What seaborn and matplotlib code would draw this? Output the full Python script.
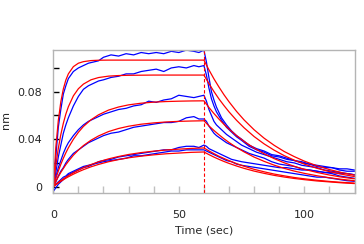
import numpy as np
import pandas as pd
import matplotlib
matplotlib.use("Agg")
import matplotlib.pyplot as plt
import seaborn as sns

# ---- raw sensor traces (blue) ----
t_raw = [0, 1, 2, 3, 4, 5, 6, 8, 10, 12, 14, 16, 18, 20, 23, 26, 29, 32, 35, 38, 41, 44, 47,
         50, 53, 56, 58, 60, 61, 62, 63, 64, 65, 67, 69, 71, 73, 75, 78, 81, 84, 87, 90, 93,
         96, 99, 102, 105, 108, 111, 114, 117, 120]

raw1 = [0, 0.025, 0.050, 0.065, 0.078, 0.085, 0.091, 0.097, 0.100, 0.102, 0.104, 0.105, 0.106,
        0.109, 0.111, 0.110, 0.112, 0.111, 0.113, 0.112, 0.113, 0.112, 0.114, 0.113, 0.115,
        0.114, 0.113, 0.115,
        0.105, 0.092, 0.080, 0.073, 0.067, 0.058, 0.052, 0.047, 0.043, 0.040, 0.035, 0.032,
        0.030, 0.027, 0.026, 0.024, 0.022, 0.021, 0.019, 0.018, 0.017, 0.016, 0.015, 0.015, 0.014]
raw2 = [0, 0.012, 0.025, 0.035, 0.045, 0.052, 0.058, 0.068, 0.076, 0.082, 0.085, 0.087, 0.089,
        0.090, 0.092, 0.093, 0.095, 0.095, 0.097, 0.098, 0.099, 0.097, 0.100, 0.101, 0.100,
        0.102, 0.101, 0.102,
        0.094, 0.083, 0.074, 0.068, 0.063, 0.056, 0.050, 0.046, 0.042, 0.039, 0.034, 0.031,
        0.029, 0.026, 0.025, 0.023, 0.022, 0.020, 0.019, 0.017, 0.016, 0.016, 0.014, 0.013, 0.013]
raw3 = [0, 0.008, 0.016, 0.022, 0.028, 0.033, 0.037, 0.043, 0.048, 0.052, 0.055, 0.057, 0.059,
        0.061, 0.063, 0.065, 0.066, 0.068, 0.069, 0.072, 0.071, 0.073, 0.074, 0.077, 0.076,
        0.075, 0.076, 0.077,
        0.072, 0.065, 0.060, 0.055, 0.052, 0.048, 0.044, 0.041, 0.038, 0.035, 0.032, 0.029,
        0.027, 0.025, 0.023, 0.021, 0.020, 0.018, 0.017, 0.016, 0.014, 0.013, 0.012, 0.011, 0.010]
raw4 = [0, 0.004, 0.009, 0.013, 0.016, 0.020, 0.023, 0.028, 0.031, 0.034, 0.037, 0.039, 0.041,
        0.043, 0.045, 0.046, 0.048, 0.050, 0.051, 0.052, 0.053, 0.054, 0.054, 0.055, 0.058,
        0.059, 0.057, 0.057,
        0.055, 0.051, 0.048, 0.045, 0.043, 0.040, 0.037, 0.035, 0.033, 0.031, 0.028, 0.026,
        0.024, 0.021, 0.019, 0.018, 0.017, 0.015, 0.014, 0.013, 0.012, 0.011, 0.009, 0.008, 0.007]
raw5 = [0, 0.002, 0.004, 0.006, 0.008, 0.009, 0.011, 0.013, 0.015, 0.017, 0.018, 0.019, 0.021,
        0.022, 0.023, 0.025, 0.026, 0.027, 0.028, 0.029, 0.030, 0.031, 0.031, 0.033, 0.034,
        0.034, 0.033, 0.035,
        0.034, 0.032, 0.031, 0.030, 0.029, 0.027, 0.025, 0.023, 0.022, 0.021, 0.020, 0.019,
        0.018, 0.017, 0.016, 0.016, 0.015, 0.014, 0.014, 0.013, 0.012, 0.012, 0.011, 0.011, 0.010]
raw6 = [-0.004, -0.001, 0.002, 0.004, 0.006, 0.008, 0.010, 0.012, 0.014, 0.016, 0.017, 0.019,
        0.020, 0.021, 0.022, 0.023, 0.024, 0.026, 0.026, 0.027, 0.028, 0.029, 0.030, 0.030,
        0.031, 0.031, 0.031, 0.031,
        0.030, 0.029, 0.028, 0.027, 0.026, 0.024, 0.022, 0.021, 0.019, 0.018, 0.017, 0.016,
        0.015, 0.014, 0.013, 0.012, 0.011, 0.010, 0.009, 0.008, 0.008, 0.007, 0.006, 0.005, 0.0045]

# ---- fitted curves (red) ----
t_fit = [0, 1, 2, 3, 4, 5, 6, 8, 10, 12, 15, 18, 22, 26, 30, 35, 40, 45, 50, 55, 60,
         62, 64, 66, 68, 70, 73, 76, 80, 84, 88, 92, 96, 100, 105, 110, 115, 120]

fit1 = [0, 0.0330, 0.0557, 0.0715, 0.0823, 0.0898, 0.0950, 0.1011, 0.1040, 0.1053, 0.1062,
        0.1065, 0.1066, 0.1066, 0.1066, 0.1066, 0.1066, 0.1066, 0.1066, 0.1066, 0.1066,
        0.0984, 0.0908, 0.0839, 0.0774, 0.0715, 0.0634, 0.0562, 0.0479, 0.0408, 0.0348,
        0.0296, 0.0253, 0.0215, 0.0176, 0.0144, 0.0118, 0.0097]
fit2 = [0, 0.0178, 0.0322, 0.0439, 0.0534, 0.0611, 0.0673, 0.0765, 0.0825, 0.0864, 0.0900,
        0.0919, 0.0931, 0.0936, 0.0938, 0.0939, 0.0940, 0.0940, 0.0940, 0.0940, 0.0940,
        0.0868, 0.0801, 0.0739, 0.0683, 0.0630, 0.0559, 0.0496, 0.0422, 0.0360, 0.0307,
        0.0261, 0.0223, 0.0190, 0.0155, 0.0127, 0.0104, 0.0085]
fit3 = [0, 0.0069, 0.0131, 0.0188, 0.0239, 0.0285, 0.0327, 0.0399, 0.0458, 0.0507, 0.0563,
        0.0605, 0.0645, 0.0671, 0.0689, 0.0703, 0.0712, 0.0717, 0.0720, 0.0722, 0.0723,
        0.0667, 0.0616, 0.0569, 0.0525, 0.0485, 0.0430, 0.0381, 0.0325, 0.0277, 0.0236,
        0.0201, 0.0171, 0.0146, 0.0120, 0.0098, 0.0080, 0.0066]
fit4 = [0, 0.0043, 0.0083, 0.0120, 0.0153, 0.0185, 0.0213, 0.0265, 0.0308, 0.0346, 0.0391,
        0.0427, 0.0464, 0.0490, 0.0509, 0.0526, 0.0537, 0.0545, 0.0550, 0.0553, 0.0555,
        0.0512, 0.0473, 0.0437, 0.0403, 0.0372, 0.0330, 0.0293, 0.0249, 0.0213, 0.0181,
        0.0154, 0.0131, 0.0112, 0.0092, 0.0075, 0.0061, 0.0050]
fit5 = [0, 0.0018, 0.0034, 0.0050, 0.0065, 0.0079, 0.0093, 0.0117, 0.0140, 0.0160, 0.0186,
        0.0209, 0.0234, 0.0254, 0.0271, 0.0287, 0.0299, 0.0309, 0.0316, 0.0322, 0.0326,
        0.0301, 0.0278, 0.0256, 0.0237, 0.0219, 0.0194, 0.0172, 0.0146, 0.0125, 0.0106,
        0.0091, 0.0077, 0.0066, 0.0054, 0.0044, 0.0036, 0.0030]
fit6 = [0, 0.0016, 0.0031, 0.0045, 0.0058, 0.0071, 0.0083, 0.0105, 0.0125, 0.0143, 0.0167,
        0.0187, 0.0210, 0.0228, 0.0243, 0.0257, 0.0268, 0.0277, 0.0283, 0.0289, 0.0292,
        0.0270, 0.0249, 0.0230, 0.0212, 0.0196, 0.0174, 0.0154, 0.0131, 0.0112, 0.0095,
        0.0081, 0.0069, 0.0059, 0.0048, 0.0040, 0.0032, 0.0026]

dissoc_start = 60
y_ticks = [0, 0.02, 0.04, 0.06, 0.08, 0.10]
y_labels = ["0", "", "0.04", "", "0.08", ""]
x_ticks = list(range(0, 121, 10))
x_labels = ["0", "", "", "", "", "50", "", "", "", "", "100", "", ""]

raw_series = [raw1, raw2, raw3, raw4, raw5, raw6]
fit_series = [fit1, fit2, fit3, fit4, fit5, fit6]

raw_df = pd.concat([pd.DataFrame({"t": t_raw, "y": s, "trace": i})
                    for i, s in enumerate(raw_series)], ignore_index=True)
fit_df = pd.concat([pd.DataFrame({"t": t_fit, "y": s, "trace": i})
                    for i, s in enumerate(fit_series)], ignore_index=True)

sns.set_style("white")
plt.rcParams["font.family"] = ["DejaVu Sans"]

fig = plt.figure(figsize=(3.64, 2.44), dpi=100)
ax = fig.add_axes([0.1464, 0.2078, 0.8276, 0.5872])

sns.lineplot(data=raw_df, x="t", y="y", units="trace", estimator=None, sort=False,
             color="#0000ff", lw=0.9, ax=ax)
sns.lineplot(data=fit_df, x="t", y="y", units="trace", estimator=None, sort=False,
             color="#ff0000", lw=0.9, ax=ax)
ax.axvline(dissoc_start, color="#ff0000", lw=0.8, ls=(0, (3, 2)))

ax.set_xlim(0, 120)
ax.set_ylim(-0.0056, 0.1151)
ax.set_yticks(y_ticks)
ax.set_yticklabels(y_labels)
ax.set_xticks(x_ticks)
ax.set_xticklabels(x_labels)
ax.tick_params(axis="y", direction="in", length=4, width=1, color="black",
               labelsize=8, pad=8, left=True)
ax.tick_params(axis="x", direction="in", length=5, width=1, color="#c0c0c0",
               labelsize=8, pad=12, bottom=True)
for sp in ax.spines.values():
    sp.set_color("#b4b4b4")
    sp.set_linewidth(1)

ax.set_xlabel("Time (sec)", fontsize=8, labelpad=4)
ax.set_ylabel("nm", fontsize=8)
ax.yaxis.set_label_coords(-0.14, 0.51)

fig.savefig("out.png", dpi=100)
